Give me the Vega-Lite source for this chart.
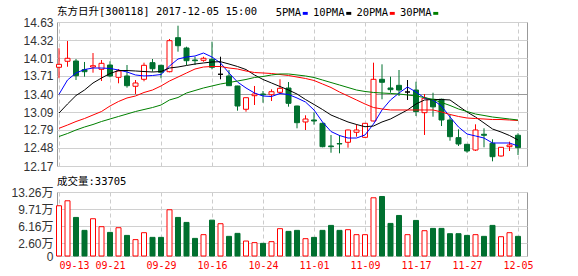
{
  "$schema": "https://vega.github.io/schema/vega-lite/v6.json",
  "padding": {"left": 6, "top": 6, "right": 5, "bottom": 2},
  "background": "#ffffff",
  "config": {
    "view": {"stroke": "#999999", "strokeWidth": 1},
    "axis": {"labelFont": "Liberation Sans, Noto Sans CJK SC", "labelFontSize": 12, "labelColor": "#333333", "ticks": false, "domain": false, "gridColor": "#d0d0d0", "title": null, "labelOverlap": false},
    "title": {"font": "DejaVu Sans Mono, Noto Sans CJK SC", "fontSize": 10.5, "fontWeight": "normal", "color": "#000000", "anchor": "start", "frame": "group"},
    "concat": {"spacing": 3}
  },
  "datasets": {
    "ohlc": [
      {"d":"09-13","o":13.856,"h":14.181,"l":13.668,"c":13.907,"dir":"up","ma5":13.395,"ma10":13.075,"ma20":12.814,"ma30":12.674,"vol":10.41},
      {"d":"09-14","o":13.959,"h":14.305,"l":13.866,"c":14.010,"dir":"up","ma5":13.639,"ma10":13.229,"ma20":12.870,"ma30":12.725,"vol":11.44},
      {"d":"09-15","o":13.964,"h":13.998,"l":13.639,"c":13.713,"dir":"down","ma5":13.759,"ma10":13.374,"ma20":12.930,"ma30":12.785,"vol":7.99},
      {"d":"09-18","o":13.815,"h":13.947,"l":13.696,"c":13.781,"dir":"down","ma5":13.818,"ma10":13.468,"ma20":12.981,"ma30":12.836,"vol":5.31},
      {"d":"09-19","o":13.861,"h":14.100,"l":13.764,"c":13.883,"dir":"up","ma5":13.844,"ma10":13.588,"ma20":13.041,"ma30":12.879,"vol":7.72},
      {"d":"09-20","o":13.822,"h":13.981,"l":13.622,"c":13.924,"dir":"up","ma5":13.844,"ma10":13.673,"ma20":13.101,"ma30":12.930,"vol":6.07},
      {"d":"09-21","o":13.895,"h":13.959,"l":13.685,"c":13.708,"dir":"down","ma5":13.836,"ma10":13.750,"ma20":13.195,"ma30":12.973,"vol":4.89},
      {"d":"09-22","o":13.685,"h":13.827,"l":13.583,"c":13.793,"dir":"up","ma5":13.810,"ma10":13.801,"ma20":13.272,"ma30":13.016,"vol":5.86},
      {"d":"09-25","o":13.708,"h":13.895,"l":13.508,"c":13.542,"dir":"down","ma5":13.776,"ma10":13.801,"ma20":13.332,"ma30":13.058,"vol":4.27},
      {"d":"09-26","o":13.532,"h":13.639,"l":13.400,"c":13.588,"dir":"up","ma5":13.725,"ma10":13.793,"ma20":13.366,"ma30":13.101,"vol":3.39},
      {"d":"09-27","o":13.651,"h":13.935,"l":13.617,"c":13.890,"dir":"up","ma5":13.708,"ma10":13.784,"ma20":13.426,"ma30":13.135,"vol":4.83},
      {"d":"09-28","o":13.935,"h":13.998,"l":13.781,"c":13.832,"dir":"down","ma5":13.716,"ma10":13.776,"ma20":13.468,"ma30":13.169,"vol":3.86},
      {"d":"09-29","o":13.890,"h":13.900,"l":13.668,"c":13.771,"dir":"down","ma5":13.733,"ma10":13.784,"ma20":13.537,"ma30":13.212,"vol":3.86},
      {"d":"10-09","o":13.781,"h":14.340,"l":13.770,"c":14.311,"dir":"up","ma5":13.878,"ma10":13.844,"ma20":13.622,"ma30":13.298,"vol":9.58},
      {"d":"10-10","o":14.362,"h":14.567,"l":14.123,"c":14.225,"dir":"down","ma5":13.998,"ma10":13.861,"ma20":13.690,"ma30":13.340,"vol":7.99},
      {"d":"10-11","o":14.186,"h":14.208,"l":13.895,"c":13.969,"dir":"down","ma5":14.032,"ma10":13.887,"ma20":13.759,"ma30":13.417,"vol":6.96},
      {"d":"10-12","o":13.981,"h":14.037,"l":13.895,"c":13.969,"dir":"down","ma5":14.049,"ma10":13.912,"ma20":13.827,"ma30":13.460,"vol":3.65},
      {"d":"10-13","o":13.976,"h":14.037,"l":13.951,"c":14.010,"dir":"up","ma5":14.100,"ma10":13.930,"ma20":13.861,"ma30":13.503,"vol":4.42},
      {"d":"10-16","o":13.992,"h":14.294,"l":13.822,"c":13.856,"dir":"down","ma5":14.032,"ma10":13.947,"ma20":13.870,"ma30":13.537,"vol":7.43},
      {"d":"10-17","o":13.737,"h":14.037,"l":13.651,"c":13.737,"dir":"flat","ma5":13.930,"ma10":13.952,"ma20":13.870,"ma30":13.571,"vol":6.69},
      {"d":"10-18","o":13.708,"h":13.810,"l":13.542,"c":13.542,"dir":"down","ma5":13.759,"ma10":13.912,"ma20":13.844,"ma30":13.596,"vol":4.07},
      {"d":"10-19","o":13.537,"h":13.540,"l":13.115,"c":13.195,"dir":"down","ma5":13.605,"ma10":13.870,"ma20":13.827,"ma30":13.622,"vol":4.69},
      {"d":"10-20","o":13.139,"h":13.337,"l":13.098,"c":13.337,"dir":"up","ma5":13.503,"ma10":13.818,"ma20":13.793,"ma30":13.648,"vol":3.10},
      {"d":"10-23","o":13.371,"h":13.537,"l":13.212,"c":13.400,"dir":"up","ma5":13.417,"ma10":13.725,"ma20":13.767,"ma30":13.682,"vol":2.77},
      {"d":"10-24","o":13.400,"h":13.451,"l":13.251,"c":13.388,"dir":"down","ma5":13.366,"ma10":13.648,"ma20":13.759,"ma30":13.699,"vol":2.62},
      {"d":"10-25","o":13.388,"h":13.480,"l":13.280,"c":13.439,"dir":"up","ma5":13.357,"ma10":13.588,"ma20":13.750,"ma30":13.725,"vol":2.97},
      {"d":"10-26","o":13.429,"h":13.651,"l":13.400,"c":13.497,"dir":"up","ma5":13.409,"ma10":13.528,"ma20":13.733,"ma30":13.742,"vol":5.66},
      {"d":"10-27","o":13.502,"h":13.605,"l":13.183,"c":13.241,"dir":"down","ma5":13.391,"ma10":13.468,"ma20":13.716,"ma30":13.742,"vol":5.10},
      {"d":"10-30","o":13.195,"h":13.200,"l":12.814,"c":12.910,"dir":"down","ma5":13.332,"ma10":13.400,"ma20":13.690,"ma30":13.725,"vol":5.31},
      {"d":"10-31","o":12.922,"h":13.036,"l":12.785,"c":12.973,"dir":"up","ma5":13.263,"ma10":13.306,"ma20":13.665,"ma30":13.708,"vol":3.59},
      {"d":"11-01","o":12.956,"h":13.087,"l":12.876,"c":12.939,"dir":"down","ma5":13.127,"ma10":13.221,"ma20":13.631,"ma30":13.682,"vol":3.86},
      {"d":"11-02","o":12.899,"h":12.910,"l":12.490,"c":12.500,"dir":"down","ma5":12.922,"ma10":13.135,"ma20":13.571,"ma30":13.639,"vol":5.31},
      {"d":"11-03","o":12.512,"h":12.700,"l":12.397,"c":12.500,"dir":"down","ma5":12.759,"ma10":13.041,"ma20":13.511,"ma30":13.596,"vol":6.34},
      {"d":"11-06","o":12.553,"h":12.700,"l":12.387,"c":12.547,"dir":"down","ma5":12.691,"ma10":12.981,"ma20":13.434,"ma30":13.554,"vol":5.31},
      {"d":"11-07","o":12.575,"h":12.790,"l":12.483,"c":12.785,"dir":"up","ma5":12.648,"ma10":12.922,"ma20":13.366,"ma30":13.511,"vol":5.45},
      {"d":"11-08","o":12.746,"h":12.882,"l":12.671,"c":12.785,"dir":"up","ma5":12.648,"ma10":12.879,"ma20":13.298,"ma30":13.468,"vol":4.42},
      {"d":"11-09","o":12.660,"h":12.905,"l":12.655,"c":12.899,"dir":"up","ma5":12.700,"ma10":12.841,"ma20":13.229,"ma30":13.443,"vol":4.42},
      {"d":"11-10","o":12.939,"h":13.935,"l":12.935,"c":13.651,"dir":"up","ma5":12.888,"ma10":12.853,"ma20":13.169,"ma30":13.426,"vol":12.06},
      {"d":"11-13","o":13.651,"h":13.907,"l":13.310,"c":13.600,"dir":"down","ma5":13.127,"ma10":12.922,"ma20":13.144,"ma30":13.417,"vol":12.33},
      {"d":"11-14","o":13.503,"h":13.696,"l":13.422,"c":13.474,"dir":"down","ma5":13.298,"ma10":12.973,"ma20":13.127,"ma30":13.409,"vol":6.75},
      {"d":"11-15","o":13.548,"h":13.810,"l":13.366,"c":13.468,"dir":"down","ma5":13.417,"ma10":13.050,"ma20":13.127,"ma30":13.400,"vol":8.40},
      {"d":"11-16","o":13.434,"h":13.639,"l":13.298,"c":13.434,"dir":"flat","ma5":13.520,"ma10":13.127,"ma20":13.127,"ma30":13.383,"vol":4.42},
      {"d":"11-17","o":13.468,"h":13.610,"l":13.024,"c":13.100,"dir":"down","ma5":13.434,"ma10":13.229,"ma20":13.127,"ma30":13.366,"vol":7.37},
      {"d":"11-20","o":13.081,"h":13.400,"l":12.700,"c":13.327,"dir":"up","ma5":13.332,"ma10":13.298,"ma20":13.127,"ma30":13.340,"vol":5.24},
      {"d":"11-21","o":13.310,"h":13.422,"l":13.012,"c":13.180,"dir":"down","ma5":13.298,"ma10":13.306,"ma20":13.127,"ma30":13.306,"vol":5.72},
      {"d":"11-22","o":13.310,"h":13.320,"l":12.853,"c":12.956,"dir":"down","ma5":13.195,"ma10":13.306,"ma20":13.093,"ma30":13.255,"vol":5.72},
      {"d":"11-23","o":12.956,"h":13.041,"l":12.602,"c":12.671,"dir":"down","ma5":13.007,"ma10":13.298,"ma20":13.050,"ma30":13.204,"vol":4.62},
      {"d":"11-24","o":12.654,"h":12.797,"l":12.512,"c":12.546,"dir":"down","ma5":12.836,"ma10":13.195,"ma20":13.016,"ma30":13.144,"vol":4.62},
      {"d":"11-27","o":12.541,"h":12.545,"l":12.397,"c":12.426,"dir":"down","ma5":12.717,"ma10":13.093,"ma20":12.990,"ma30":13.101,"vol":4.27},
      {"d":"11-28","o":12.443,"h":12.882,"l":12.426,"c":12.785,"dir":"up","ma5":12.683,"ma10":13.007,"ma20":12.981,"ma30":13.058,"vol":4.42},
      {"d":"11-29","o":12.712,"h":12.814,"l":12.489,"c":12.695,"dir":"down","ma5":12.648,"ma10":12.905,"ma20":12.973,"ma30":13.033,"vol":4.07},
      {"d":"11-30","o":12.558,"h":12.626,"l":12.250,"c":12.329,"dir":"down","ma5":12.563,"ma10":12.802,"ma20":12.964,"ma30":13.007,"vol":6.34},
      {"d":"12-01","o":12.341,"h":12.495,"l":12.330,"c":12.489,"dir":"up","ma5":12.563,"ma10":12.751,"ma20":12.964,"ma30":12.990,"vol":4.00},
      {"d":"12-04","o":12.500,"h":12.586,"l":12.426,"c":12.529,"dir":"up","ma5":12.563,"ma10":12.691,"ma20":12.956,"ma30":12.973,"vol":4.83},
      {"d":"12-05","o":12.695,"h":12.729,"l":12.358,"c":12.483,"dir":"down","ma5":12.512,"ma10":12.614,"ma20":12.947,"ma30":12.956,"vol":4.07}
    ]
  },
  "vconcat": [
    {
      "width": 470,
      "height": 144,
      "title": {"text": "东方日升[300118] 2017-12-05 15:00", "offset": -1},
      "data": {"name": "ohlc"},
      "encoding": {
        "x": {
          "field": "d", "type": "ordinal",
          "scale": {"type": "point", "padding": 0.647, "align": 0.182},
          "axis": {"labels": false, "grid": true, "gridDash": [4, 3], "gridColor": "#cccccc", "tickCount": 20,
                   "values": ["09-13","09-21","09-29","10-16","10-24","11-01","11-09","11-17","11-27","12-05"]}
        }
      },
      "layer": [
        {
          "mark": {"type": "rule", "strokeWidth": 1},
          "encoding": {
            "y": {"field": "l", "type": "quantitative",
                  "scale": {"domain": [12.17, 14.63], "zero": false, "nice": false},
                  "axis": {"values": [12.17, 12.48, 12.79, 13.09, 13.40, 13.71, 14.01, 14.32, 14.63],
                           "tickCount": 20,
                           "format": ".2f", "grid": true, "labelPadding": 4, "minExtent": 50, "maxExtent": 50,
                           "labelOverlap": false,
                           "gridColor": {"condition": {"test": "datum.value == 13.4", "value": "#999999"}, "value": "#d0d0d0"}}},
            "y2": {"field": "h"},
            "stroke": {"condition": [{"test": "datum.dir == 'down'", "value": "#00702f"}, {"test": "datum.dir == 'flat'", "value": "#000000"}], "value": "#ff0000"}
          }
        },
        {
          "mark": {"type": "bar", "size": 5, "strokeWidth": 1},
          "encoding": {
            "y": {"field": "o", "type": "quantitative"},
            "y2": {"field": "c"},
            "fill": {"condition": [{"test": "datum.dir == 'down'", "value": "#00702f"}, {"test": "datum.dir == 'flat'", "value": "#000000"}], "value": "#ffffff"},
            "stroke": {"condition": [{"test": "datum.dir == 'down'", "value": "#00702f"}, {"test": "datum.dir == 'flat'", "value": "#000000"}], "value": "#ff0000"}
          }
        },
        {
          "transform": [{"fold": ["ma5", "ma10", "ma20", "ma30"], "as": ["k", "v"]}],
          "mark": {"type": "line", "strokeWidth": 1},
          "encoding": {
            "y": {"field": "v", "type": "quantitative"},
            "color": {
              "field": "k", "type": "nominal",
              "scale": {"domain": ["ma5", "ma10", "ma20", "ma30"], "range": ["#0000ff", "#000000", "#ff0000", "#008000"]},
              "legend": {
                "orient": "none", "legendX": 243, "legendY": -14, "direction": "horizontal", "columns": 4,
                "title": null, "padding": 0, "columnPadding": 1.5,
                "labelFont": "DejaVu Sans Mono, Noto Sans CJK SC", "labelFontSize": 10.5, "labelColor": "#000000",
                "labelAlign": "right", "labelOffset": -9.5, "symbolOffset": 0,
                "symbolType": "M-1,-0.3H1V0.3H-1Z", "symbolSize": 9, "symbolStrokeWidth": 2,
                "labelExpr": "datum.value == 'ma5' ? '5PMA' : datum.value == 'ma10' ? '10PMA' : datum.value == 'ma20' ? '20PMA' : '30PMA'"
              }
            }
          }
        }
      ]
    },
    {
      "width": 470,
      "height": 64,
      "title": {"text": "成交量:33705", "offset": -1},
      "data": {"name": "ohlc"},
      "mark": {"type": "bar", "size": 5, "strokeWidth": 1},
      "encoding": {
        "x": {
          "field": "d", "type": "ordinal",
          "scale": {"type": "point", "padding": 0.647, "align": 0.182},
          "axis": {"values": ["09-13","09-21","09-29","10-16","10-24","11-01","11-09","11-17","11-27","12-05"],
                   "grid": true, "gridDash": [4, 3], "gridColor": "#cccccc", "tickCount": 20,
                   "labelColor": "#ff0000", "labelFont": "DejaVu Sans Mono", "labelFontSize": 10,
                   "labelAngle": 0, "labelPadding": 4, "labelFlush": 5}
        },
        "y": {
          "field": "vol", "type": "quantitative",
          "scale": {"domain": [0, 13.26], "nice": false},
          "axis": {"values": [0, 2.6, 6.16, 9.71, 13.26],
                   "tickCount": 20,
                   "labelExpr": "datum.value == 0 ? '0' : format(datum.value, '.2f') + '万'",
                   "labelOverlap": false, "labelSeparation": -6, "labelBound": false, "labelFlush": false,
                   "grid": true, "labelPadding": 4, "minExtent": 50, "maxExtent": 50}
        },
        "fill": {"condition": {"test": "datum.dir == 'down'", "value": "#00702f"}, "value": "#ffffff"},
        "stroke": {"condition": {"test": "datum.dir == 'down'", "value": "#00702f"}, "value": "#ff0000"}
      }
    }
  ]
}
